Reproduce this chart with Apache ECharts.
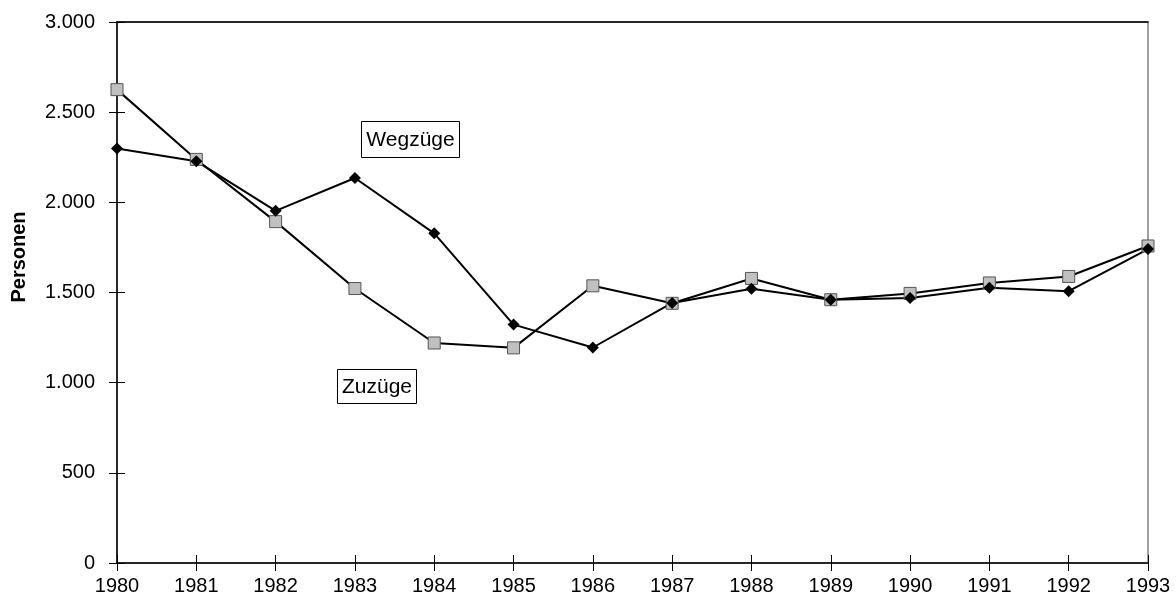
<!DOCTYPE html>
<html>
<head>
<meta charset="utf-8">
<script src="https://cdn.jsdelivr.net/npm/echarts@6/dist/echarts.min.js"></script>
<style>html,body{margin:0;padding:0;background:#fff}#c{width:1176px;height:606px}</style>
</head>
<body>
<div id="c"></div>
<script>
var years = ['1980','1981','1982','1983','1984','1985','1986','1987','1988','1989','1990','1991','1992','1993'];
var zuzuege = [2625, 2238, 1893, 1522, 1220, 1193, 1537, 1440, 1578, 1460, 1495, 1553, 1589, 1758];
var wegzuege = [2298, 2228, 1953, 2135, 1828, 1322, 1195, 1442, 1521, 1460, 1469, 1526, 1507, 1741];
var yMin = 0, yMax = 3000, yStep = 500;
var yTitle = 'Personen';
var labelZu = 'Zuzüge', labelWeg = 'Wegzüge';

function fmt(v){ return String(v).replace(/\B(?=(\d{3})+(?!\d))/g, '.'); }
var font = '"Liberation Sans", Arial, sans-serif';
var chart = echarts.init(document.getElementById('c'));
chart.setOption({
  animation: false,
  backgroundColor: '#fff',
  grid: { left: 117, right: 28, top: 22, bottom: 43, show: true, borderColor: '#808080', borderWidth: 1.5 },
  xAxis: [
    { type: 'category', data: years, boundaryGap: false, position: 'bottom',
      axisLine: { lineStyle: { color: '#000', width: 1.5 } },
      axisTick: { alignWithLabel: true, length: 8, lineStyle: { color: '#000', width: 1 } },
      axisLabel: { color: '#000', fontSize: 20, fontFamily: font, margin: 13 },
      splitLine: { show: false } },
    { type: 'category', data: years, boundaryGap: false, position: 'bottom',
      axisLine: { show: false },
      axisTick: { inside: true, length: 8, lineStyle: { color: '#000', width: 1 } },
      axisLabel: { show: false }, splitLine: { show: false } },
    { type: 'category', data: years, boundaryGap: false, position: 'top',
      axisLine: { show: true, lineStyle: { color: '#000', width: 1.5 } },
      axisTick: { show: false }, axisLabel: { show: false }, splitLine: { show: false } }
  ],
  yAxis: [
    { type: 'value', min: yMin, max: yMax, interval: yStep,
      axisLine: { show: true, lineStyle: { color: '#000', width: 1.5 } },
      axisTick: { show: true, length: 8, lineStyle: { color: '#000', width: 1 } },
      axisLabel: { color: '#000', fontSize: 20, fontFamily: font, margin: 22, formatter: fmt },
      splitLine: { show: false } },
    { type: 'value', min: yMin, max: yMax, interval: yStep, position: 'left',
      axisLine: { show: false },
      axisTick: { show: true, inside: true, length: 8, lineStyle: { color: '#000', width: 1 } },
      axisLabel: { show: false }, splitLine: { show: false } }
  ],
  series: [
    { name: labelZu, type: 'line', data: zuzuege, xAxisIndex: 0, yAxisIndex: 0,
      symbol: 'rect', symbolSize: 12, showAllSymbol: true,
      lineStyle: { color: '#000', width: 2 },
      itemStyle: { color: '#c0c0c0', borderColor: '#555', borderWidth: 1 } },
    { name: labelWeg, type: 'line', data: wegzuege, xAxisIndex: 0, yAxisIndex: 0,
      symbol: 'diamond', symbolSize: 12, showAllSymbol: true,
      lineStyle: { color: '#000', width: 2 },
      itemStyle: { color: '#000', borderColor: '#000', borderWidth: 0 } }
  ],
  graphic: [
    { type: 'text', x: 19, y: 257, rotation: Math.PI / 2,
      style: { text: yTitle, font: 'bold 20px ' + font, fill: '#000', textAlign: 'center', textVerticalAlign: 'middle' } },
    { type: 'rect', shape: { x: 361.5, y: 121.5, width: 98, height: 36 },
      style: { fill: '#fff', stroke: '#000', lineWidth: 1 }, z: 100 },
    { type: 'text', x: 410.5, y: 140, z: 101,
      style: { text: labelWeg, font: '21px ' + font, fill: '#000', textAlign: 'center', textVerticalAlign: 'middle' } },
    { type: 'rect', shape: { x: 337.5, y: 369.5, width: 79, height: 34 },
      style: { fill: '#fff', stroke: '#000', lineWidth: 1 }, z: 100 },
    { type: 'text', x: 377, y: 387, z: 101,
      style: { text: labelZu, font: '21px ' + font, fill: '#000', textAlign: 'center', textVerticalAlign: 'middle' } }
  ]
});
</script>
</body>
</html>
